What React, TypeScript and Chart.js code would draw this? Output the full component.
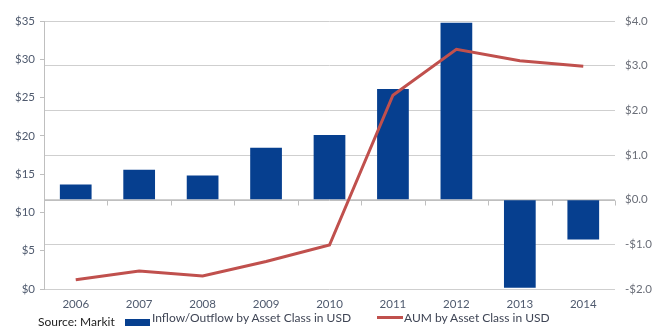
import React, { useEffect, useRef } from "react";
import { Chart, registerables } from "chart.js";

Chart.register(...registerables);

const years = ["2006", "2007", "2008", "2009", "2010", "2011", "2012", "2013", "2014"];
const flows = [0.34, 0.67, 0.54, 1.16, 1.45, 2.48, 3.96, -1.97, -0.89];
const aum = [1.2, 2.35, 1.7, 3.6, 5.75, 25.3, 31.3, 29.8, 29.1];
const flowLabel = "Inflow/Outflow by Asset Class in USD";
const aumLabel = "AUM by Asset Class in USD";
const sourceText = "Source: Markit";

const BLUE = "#063f8f";
const RED = "#c0504d";
const GRID = "#cfcfcf";
const TEXT = "#4f5a6e";
const FONT = "Lato, 'Open Sans', sans-serif";

const zeroAxisPlugin = {
  id: "zeroAxis",
  beforeDatasetsDraw(chart: any) {
    const { ctx, chartArea, scales } = chart;
    const y = Math.round(scales.y1.getPixelForValue(0)) + 0.5;
    const xs = scales.x;
    ctx.save();
    ctx.strokeStyle = "#bfbfbf";
    ctx.lineWidth = 1;
    ctx.beginPath();
    ctx.moveTo(chartArea.left, y);
    ctx.lineTo(chartArea.right, y);
    const n = years.length;
    for (let i = 0; i <= n; i++) {
      let x;
      if (i === 0) x = chartArea.left;
      else if (i === n) x = chartArea.right;
      else x = (xs.getPixelForValue(i - 1) + xs.getPixelForValue(i)) / 2;
      x = Math.round(x) + 0.5;
      ctx.moveTo(x, y);
      ctx.lineTo(x, y + 5);
    }
    ctx.stroke();
    ctx.restore();
  },
};

export default function App() {
  const ref = useRef<HTMLCanvasElement | null>(null);

  useEffect(() => {
    document.body.style.margin = "0";
    const canvas = ref.current;
    if (!canvas) return;
    const chart = new Chart(canvas, {
      type: "bar",
      data: {
        labels: years,
        datasets: [
          {
            type: "line",
            label: aumLabel,
            data: aum,
            yAxisID: "y",
            borderColor: RED,
            backgroundColor: RED,
            borderWidth: 3,
            pointRadius: 0,
            tension: 0,
            order: 0,
          } as any,
          {
            type: "bar",
            label: flowLabel,
            data: flows,
            yAxisID: "y1",
            backgroundColor: BLUE,
            categoryPercentage: 1,
            barPercentage: 0.5,
            order: 1,
          } as any,
        ],
      },
      options: {
        animation: false,
        responsive: false,
        maintainAspectRatio: false,
        layout: { padding: { top: 21, bottom: 0, left: 0, right: 0 } },
        plugins: { legend: { display: false }, tooltip: { enabled: false } },
        scales: {
          x: {
            grid: { display: false, drawTicks: false },
            border: { display: false },
            ticks: { color: TEXT, font: { family: FONT, size: 11.5 }, padding: 8 },
            afterFit(scale: any) {
              scale.height = 37;
            },
          },
          y: {
            position: "left",
            min: 0,
            max: 35,
            ticks: {
              stepSize: 5,
              color: TEXT,
              padding: 5,
              font: { family: FONT, size: 11.5 },
              callback: (v: any) => "$" + v,
            },
            grid: { drawOnChartArea: false, drawTicks: true, tickLength: 4, color: "#bfbfbf" },
            border: { display: true, color: "#bfbfbf" },
            afterFit(scale: any) {
              scale.width = 44;
            },
          },
          y1: {
            position: "right",
            min: -2,
            max: 4,
            ticks: {
              stepSize: 1,
              color: "#6a6e78",
              padding: 10,
              font: { family: FONT, size: 11.5 },
              callback: (v: any) => (v < 0 ? "-$" + Math.abs(v).toFixed(1) : "$" + Number(v).toFixed(1)),
            },
            grid: { drawOnChartArea: true, drawTicks: false, color: GRID },
            border: { display: false },
            afterFit(scale: any) {
              scale.width = 37;
            },
          },
        },
      },
      plugins: [zeroAxisPlugin],
    });
    return () => chart.destroy();
  }, []);

  const textStyle: React.CSSProperties = {
    position: "absolute",
    fontFamily: FONT,
    fontSize: 12,
    lineHeight: "12px",
    color: "#3f4555",
    whiteSpace: "nowrap",
  };

  return (
    <div style={{ position: "relative", width: 652, height: 326, overflow: "hidden", background: "#fff" }}>
      <canvas ref={ref} width={652} height={326} style={{ display: "block", width: 652, height: 326 }} />
      <div style={{ ...textStyle, left: 38, top: 316, color: "#222" }}>{sourceText}</div>
      <div style={{ position: "absolute", left: 125, top: 319, width: 25, height: 9, background: BLUE }} />
      <div style={{ ...textStyle, left: 152, top: 312 }}>{flowLabel}</div>
      <div style={{ position: "absolute", left: 377, top: 316, width: 26, height: 3, background: RED }} />
      <div style={{ ...textStyle, left: 404, top: 312 }}>{aumLabel}</div>
    </div>
  );
}
